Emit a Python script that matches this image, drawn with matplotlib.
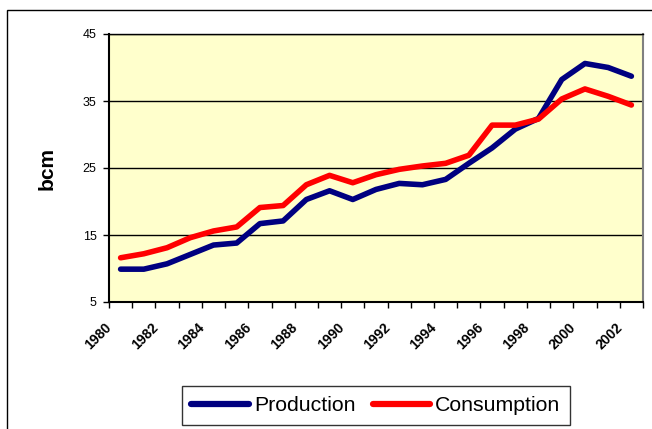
import matplotlib.pyplot as plt
import matplotlib.patches as patches
from matplotlib.transforms import ScaledTranslation

# years 1980..2002, labels every second year
years = list(range(1980, 2003))
production = [9.9, 9.9, 10.7, 12.1, 13.5, 13.8, 16.7, 17.1, 20.3, 21.6, 20.3, 21.8,
              22.7, 22.5, 23.3, 25.7, 28.0, 30.8, 32.4, 38.2, 40.6, 40.0, 38.7]
consumption = [11.6, 12.2, 13.1, 14.6, 15.6, 16.2, 19.1, 19.4, 22.5, 23.9, 22.8, 24.0,
               24.8, 25.3, 25.7, 26.9, 31.4, 31.4, 32.3, 35.3, 36.8, 35.7, 34.4]
yticks = [5, 15, 25, 35, 45]

plt.rcParams['font.family'] = ['Liberation Sans', 'DejaVu Sans']

fig = plt.figure(figsize=(6.52, 4.29), dpi=100)
W, H = 652.0, 429.0
ax = fig.add_axes([109 / W, 1 - 302 / H, (643 - 109) / W, (302 - 34) / H])
ax.set_facecolor('#FFFFCC')

x = list(range(len(years)))
ax.plot(x, production, color='#000080', lw=4, solid_capstyle='round', solid_joinstyle='round', label='Production', zorder=3)
ax.plot(x, consumption, color='#FF0000', lw=4, solid_capstyle='round', solid_joinstyle='round', label='Consumption', zorder=3)

ax.set_xlim(-0.5, len(years) - 0.5)
ax.set_ylim(5, 45)
ax.set_yticks(yticks)
ax.set_yticklabels([str(v) for v in yticks], fontsize=9)
ax.yaxis.grid(True, color='black', lw=1)
ax.set_axisbelow(True)

# ticks at category boundaries, labels at every second category
ax.set_xticks([i - 0.5 for i in range(len(years) + 1)], minor=True)
ax.set_xticks(x[::2])
ax.set_xticklabels([str(y) for y in years[::2]], rotation=45, ha='right', va='center',
                   rotation_mode='anchor', fontsize=10, fontweight='bold')
ax.tick_params(axis='x', which='major', length=0, pad=17)
ax.tick_params(axis='x', which='minor', length=4, width=1, direction='out')
ax.tick_params(axis='y', length=4, width=1, pad=5)
shift = ScaledTranslation(-11 / 100, 0, fig.dpi_scale_trans)
for lab in ax.get_xticklabels():
    lab.set_transform(lab.get_transform() + shift)

for s in ['left', 'bottom']:
    ax.spines[s].set_linewidth(1.5)
    ax.spines[s].set_color('black')
ax.spines['top'].set_linewidth(1)
ax.spines['right'].set_color('#808080')
ax.spines['right'].set_linewidth(1.5)

fig.text(47 / W, 1 - 169 / H, 'bcm', rotation=90, fontsize=15, fontweight='bold',
         ha='center', va='center')

# outer chart border
fig.patches.append(patches.Rectangle((7 / W, -0.1), 1.0, 1 - 10 / H + 0.1,
                                     transform=fig.transFigure, fill=False,
                                     edgecolor='black', lw=1))

leg = fig.legend(loc='center', bbox_to_anchor=(376 / W, 1 - 405.5 / H), ncol=2,
                 fontsize=15.3, frameon=True, fancybox=False, edgecolor='black',
                 handlelength=2.7, handletextpad=0.25, columnspacing=0.8,
                 borderpad=0.45, borderaxespad=0)
leg.get_frame().set_linewidth(1)
for h in leg.get_lines():
    h.set_linewidth(4.5)

fig.savefig('out.png', dpi=100)
